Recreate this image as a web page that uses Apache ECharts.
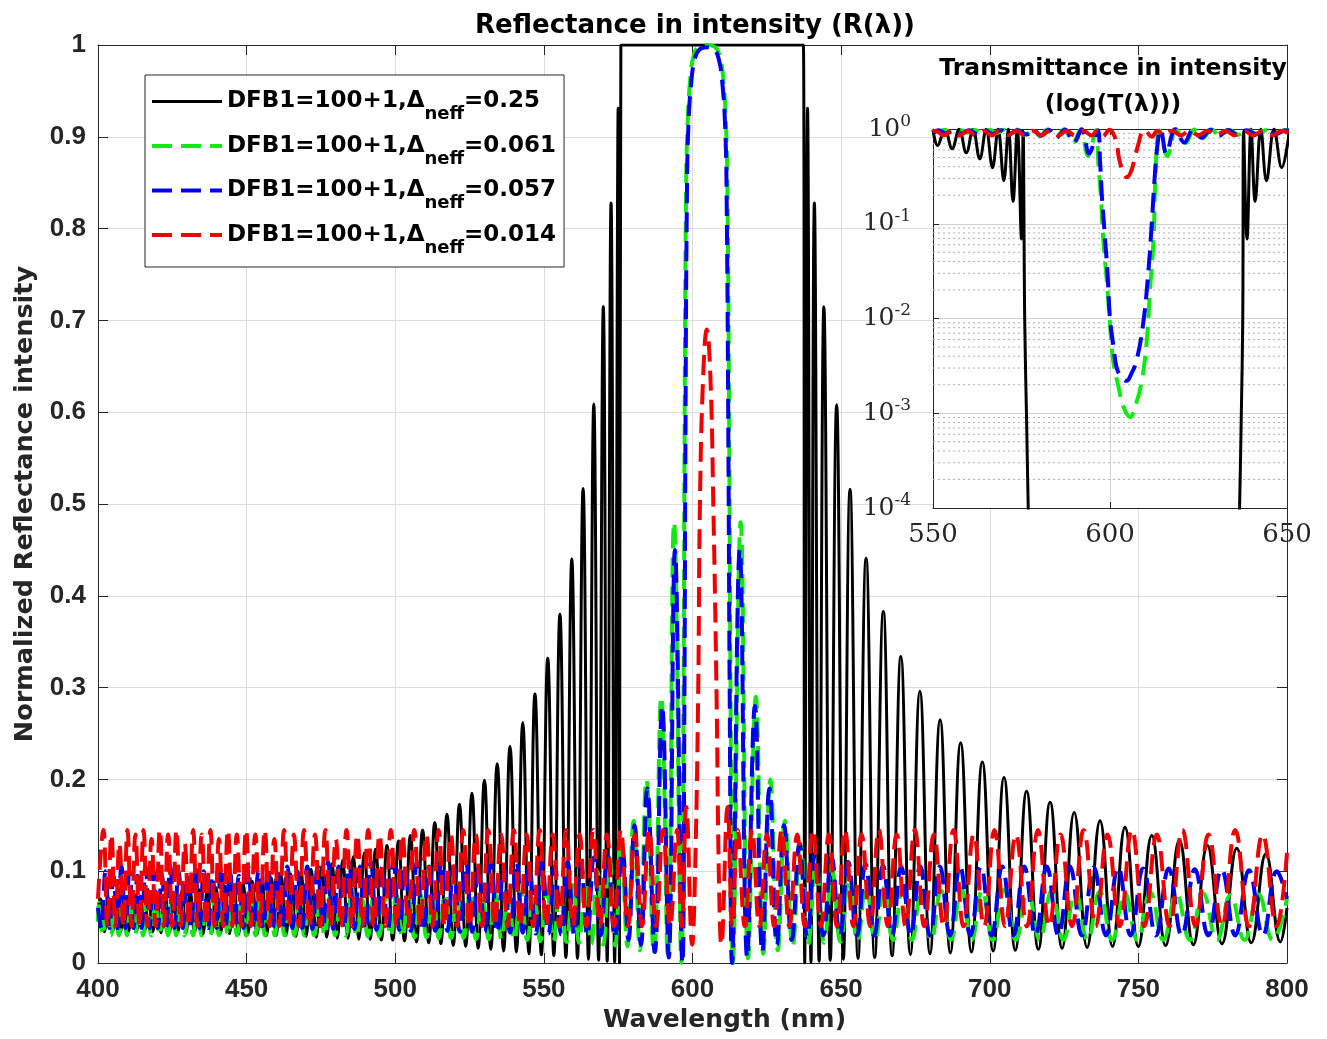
<!DOCTYPE html>
<html><head><meta charset="utf-8">
<script src="https://cdn.jsdelivr.net/npm/echarts/dist/echarts.min.js"></script>
<style>html,body{margin:0;padding:0;background:#fff}#c{width:1327px;height:1039px}</style>
</head><body><div id="c"></div>
<script>
// ---------------- DATA ----------------
const seriesNames = ['DFB1=100+1,Δneff=0.25','DFB1=100+1,Δneff=0.061','DFB1=100+1,Δneff=0.057','DFB1=100+1,Δneff=0.014'];
const xTicks = [400,450,500,550,600,650,700,750,800];
const insetXTicks = [550,600,650];

// Black (Δneff=0.25): [wavelength nm, reflectance] at extrema
const blackLeft = [[400.0,.060],[400.8,.070],[402.15,.034],[403.5,.071],[404.85,.034],[406.2,.071],[407.55,.034],[408.9,.072],[410.25,.034],[411.6,.073],[412.95,.034],[414.3,.073],[415.65,.034],[417.0,.074],[418.4,.034],[419.8,.075],[421.2,.033],[422.6,.076],[424.0,.033],[425.4,.077],[426.8,.033],[428.2,.078],[429.6,.033],[431.0,.079],[432.45,.033],[433.9,.080],[435.35,.032],[436.8,.081],[438.25,.032],[439.7,.082],[441.2,.032],[442.7,.084],[444.2,.032],[445.7,.085],[447.25,.031],[448.8,.087],[450.35,.031],[451.9,.089],[453.5,.031],[455.1,.091],[456.7,.030],[458.3,.093],[459.95,.030],[461.6,.095],[463.25,.030],[464.9,.097],[466.6,.029],[468.3,.099],[470.0,.029],[471.7,.102],[473.45,.028],[475.2,.105],[476.95,.028],[478.7,.108],[480.5,.027],[482.3,.112],[484.1,.027],[485.9,.116],[487.75,.026],[489.6,.120],[491.5,.026],[493.4,.124],[495.3,.025],[497.2,.128],[499.15,.025],[501.1,.133],[503.1,.024],[505.1,.139],[507.15,.023],[509.2,.145],[511.25,.022],[513.3,.153],[515.35,.021],[517.4,.162],[519.5,.019],[521.6,.173],[523.7,.018],[525.8,.185],[527.9,.016],[530.0,.199],[532.15,.015],[534.3,.217],[536.45,.013],[538.6,.236],[540.75,.012],[542.9,.262],[544.95,.010],[547.0,.293],[549.15,.009],[551.3,.332],[553.35,.008],[555.4,.380],[557.4,.006],[559.4,.440],[561.3,.005],[563.2,.517],[565.0,.004],[566.8,.609],[568.4,.003],[570.0,.715],[571.3,.002],[572.6,.828],[573.8,.001],[575.0,.931],[575.45,0]];
const blackBand = [[575.9,1],[576.5,1],[606,1],[636.7,1],[637.3,1]];
const blackRight = [[637.75,0],[638.7,.931],[639.85,.001],[641.0,.828],[642.6,.002],[644.2,.715],[646.35,.003],[648.5,.608],[650.75,.004],[653.0,.516],[655.7,.005],[658.4,.441],[661.3,.006],[664.2,.383],[667.15,.008],[670.1,.334],[673.3,.009],[676.5,.296],[679.9,.010],[683.3,.265],[686.75,.011],[690.2,.240],[693.85,.012],[697.5,.219],[701.15,.013],[704.8,.202],[708.6,.014],[712.4,.187],[716.35,.015],[720.3,.175],[724.35,.016],[728.4,.164],[732.75,.017],[737.1,.155],[741.3,.018],[745.5,.148],[750.0,.018],[754.5,.139],[759.15,.019],[763.8,.134],[768.5,.020],[773.2,.128],[778.15,.021],[783.1,.125],[788.0,.022],[792.9,.119],[797.8,.023],[800,.060]];

// Green (Δneff=0.061)
const greenLeft = [[400.0,.045],[400.3,.066],[401.65,.030],[403.0,.064],[404.35,.030],[405.7,.068],[407.05,.030],[408.4,.063],[409.75,.030],[411.1,.067],[412.45,.030],[413.8,.065],[415.15,.030],[416.5,.069],[417.9,.030],[419.3,.064],[420.7,.030],[422.1,.068],[423.5,.030],[424.9,.065],[426.3,.030],[427.7,.069],[429.1,.030],[430.5,.064],[431.95,.030],[433.4,.068],[434.85,.030],[436.3,.066],[437.75,.030],[439.2,.070],[440.7,.030],[442.2,.065],[443.7,.030],[445.2,.069],[446.75,.030],[448.3,.066],[449.85,.030],[451.4,.070],[453.0,.030],[454.6,.067],[456.2,.030],[457.8,.071],[459.45,.030],[461.1,.067],[462.75,.030],[464.4,.071],[466.1,.030],[467.8,.068],[469.4,.030],[471.0,.072],[472.75,.030],[474.5,.068],[476.25,.030],[478.0,.072],[479.8,.030],[481.6,.069],[483.4,.030],[485.2,.073],[487.05,.029],[488.9,.069],[490.8,.029],[492.7,.073],[494.6,.029],[496.5,.070],[498.45,.029],[500.4,.074],[502.4,.028],[504.4,.070],[506.45,.028],[508.5,.074],[510.55,.028],[512.6,.071],[514.65,.027],[516.7,.075],[518.8,.027],[520.9,.072],[523.0,.027],[525.1,.075],[527.2,.026],[529.3,.073],[531.45,.026],[533.6,.076],[535.75,.026],[537.9,.074],[540.05,.025],[542.2,.077],[544.4,.025],[546.6,.076],[548.8,.024],[551.0,.078],[553.2,.024],[555.4,.080],[557.6,.023],[559.8,.085],[561.85,.022],[563.9,.090],[565.95,.021],[568.0,.100],[570.0,.020],[572.0,.115],[574.0,.019],[576.0,.130],[578.1,.018],[580.2,.155],[582.3,.014],[584.5,.200],[587.0,.010],[589.5,.290],[591.7,.005],[593.8,.480],[596.3,0]];
const greenLobe = [[597.0,.30],[597.3,.55],[597.8,.83],[598.3,.91],[599.3,.965],[600.5,.99],[602.0,.998],[604.8,1],[607.5,.998],[609.0,.99],[610.3,.965],[611.3,.91],[611.8,.83],[612.4,.55],[612.8,.30],[613.6,0]];
const greenRight = [[616.2,.480],[618.7,.005],[621.3,.290],[623.8,.010],[626.2,.200],[628.7,.014],[631.1,.155],[633.7,.018],[636.3,.130],[638.9,.020],[641.6,.110],[644.3,.022],[647.0,.100],[649.8,.023],[652.6,.090],[655.5,.024],[658.4,.085],[661.4,.025],[664.4,.082],[667.5,.025],[670.6,.080],[673.8,.025],[677.0,.081],[680.3,.025],[683.6,.079],[687.0,.025],[690.4,.081],[693.9,.025],[697.4,.079],[701.0,.025],[704.8,.080],[708.8,.025],[712.8,.078],[716.8,.025],[720.8,.079],[724.8,.025],[728.8,.077],[732.9,.025],[737.0,.078],[741.2,.025],[745.4,.076],[749.7,.025],[754.0,.077],[758.4,.025],[762.8,.075],[767.3,.025],[771.8,.076],[776.4,.025],[781.0,.074],[785.7,.025],[790.4,.075],[795.2,.025],[800,.070]];

// Blue (Δneff=0.057)
const blueLeft = [[400.0,.060],[401.15,.038],[402.5,.100],[403.85,.038],[405.2,.095],[406.55,.038],[407.9,.105],[409.25,.038],[410.6,.100],[411.95,.038],[413.3,.095],[414.65,.038],[416.0,.105],[417.35,.038],[418.7,.100],[420.1,.038],[421.5,.095],[422.9,.038],[424.3,.105],[425.7,.038],[427.1,.100],[428.5,.038],[429.9,.095],[431.3,.038],[432.7,.105],[434.15,.038],[435.6,.100],[437.05,.038],[438.5,.095],[439.95,.038],[441.4,.105],[442.9,.038],[444.4,.100],[445.9,.038],[447.4,.095],[448.95,.038],[450.5,.105],[452.25,.038],[454.0,.100],[455.6,.038],[457.2,.105],[458.8,.038],[460.4,.100],[462.05,.038],[463.7,.105],[465.35,.038],[467.0,.100],[468.7,.038],[470.4,.105],[472.15,.037],[473.9,.105],[475.65,.037],[477.4,.110],[479.15,.037],[480.9,.105],[482.7,.037],[484.5,.110],[486.3,.037],[488.1,.105],[489.95,.036],[491.8,.110],[493.7,.036],[495.6,.105],[497.5,.036],[499.4,.110],[501.35,.036],[503.3,.105],[505.3,.035],[507.3,.110],[509.35,.035],[511.4,.105],[513.45,.035],[515.5,.110],[517.55,.035],[519.6,.105],[521.7,.034],[523.8,.110],[525.9,.034],[528.0,.105],[530.1,.034],[532.2,.110],[534.35,.033],[536.5,.105],[538.65,.033],[540.8,.110],[542.95,.033],[545.1,.105],[547.25,.032],[549.4,.110],[551.55,.032],[553.7,.105],[555.85,.031],[558.0,.110],[560.2,.031],[562.4,.110],[564.6,.030],[566.8,.115],[569.1,.030],[571.4,.118],[573.9,.028],[576.4,.125],[578.45,.025],[580.5,.150],[582.65,.020],[584.8,.190],[587.3,.012],[589.8,.280],[592.0,.006],[594.1,.450],[596.6,0]];
const blueLobe = [[597.3,.30],[597.6,.55],[598.1,.83],[598.6,.91],[599.6,.96],[600.8,.985],[602.3,.995],[604.8,.9975],[607.3,.995],[608.8,.985],[610.0,.96],[611.0,.91],[611.5,.83],[612.1,.55],[612.5,.30],[613.3,0]];
const blueRight = [[615.9,.450],[618.4,.006],[621.0,.280],[623.5,.012],[625.9,.190],[628.4,.020],[630.8,.150],[633.4,.025],[636.0,.130],[638.6,.028],[641.3,.120],[644.0,.030],[646.8,.115],[649.6,.030],[652.4,.110],[655.3,.030],[658.2,.108],[661.1,.030],[664.1,.106],[667.1,.030],[670.2,.105],[673.4,.030],[676.6,.105],[679.9,.030],[683.2,.105],[686.6,.030],[690.0,.105],[693.5,.030],[697.0,.105],[700.6,.030],[704.2,.105],[707.9,.030],[711.6,.105],[715.4,.030],[719.2,.105],[723.1,.030],[727.0,.105],[731.0,.030],[735.0,.104],[739.1,.030],[743.2,.104],[747.4,.030],[751.6,.103],[755.9,.030],[760.2,.103],[764.6,.030],[769.0,.102],[773.5,.030],[778.0,.102],[782.6,.030],[787.2,.101],[791.9,.030],[796.6,.100],[800,.070]];

// Red (Δneff=0.014)
const redLeft = [[400.0,.070],[401.8,.145],[403.15,.04],[404.5,.14],[405.85,.04],[407.2,.13],[408.55,.04],[409.9,.145],[411.25,.04],[412.6,.14],[413.95,.04],[415.3,.145],[416.65,.04],[418.0,.135],[419.4,.04],[420.8,.145],[422.2,.04],[423.6,.14],[425.0,.04],[426.4,.145],[427.8,.04],[429.2,.13],[430.6,.04],[432.0,.145],[433.45,.04],[434.9,.14],[436.35,.04],[437.8,.145],[439.25,.04],[440.7,.135],[442.2,.04],[443.7,.145],[445.2,.04],[446.7,.14],[448.25,.04],[449.8,.145],[451.35,.04],[452.9,.14],[454.5,.04],[456.1,.145],[457.7,.04],[459.3,.135],[460.95,.04],[462.6,.145],[464.25,.04],[465.9,.14],[467.6,.04],[469.3,.145],[471.15,.04],[473.0,.14],[474.75,.04],[476.5,.145],[478.25,.04],[480.0,.135],[481.8,.04],[483.6,.145],[485.4,.04],[487.2,.14],[489.05,.04],[490.9,.145],[492.8,.04],[494.7,.14],[496.6,.04],[498.5,.145],[500.45,.04],[502.4,.14],[504.4,.04],[506.4,.145],[508.45,.04],[510.5,.14],[512.55,.04],[514.6,.145],[516.65,.04],[518.7,.14],[520.8,.04],[522.9,.145],[525.0,.04],[527.1,.14],[529.2,.04],[531.3,.145],[533.45,.04],[535.6,.14],[537.75,.04],[539.9,.145],[542.05,.04],[544.2,.14],[546.4,.04],[548.6,.145],[550.8,.04],[553.0,.14],[555.25,.04],[557.5,.145],[559.75,.04],[562.0,.14],[564.3,.04],[566.6,.145],[568.9,.04],[571.2,.14],[573.55,.04],[575.9,.145],[578.25,.04],[580.6,.14],[583.0,.04],[585.4,.145],[587.75,.04],[590.1,.145],[592.45,.04],[594.8,.145],[596.4,.04],[597.9,.17],[599.9,.02]];
const redLobe = [[600.8,.09],[601.9,.29],[602.5,.50],[603.6,.64],[604.8,.69],[606.0,.64],[607.0,.50],[608.1,.29],[608.9,.09]];
const redRight = [[609.7,.02],[611.8,.17],[613.4,.04],[615.2,.145],[617.6,.04],[620.0,.145],[622.5,.04],[625.0,.14],[627.5,.04],[630.0,.145],[632.6,.04],[635.2,.14],[637.8,.04],[640.5,.145],[643.2,.04],[645.9,.14],[648.6,.04],[651.3,.145],[654.1,.04],[656.9,.14],[659.8,.04],[662.7,.145],[665.7,.04],[668.7,.14],[671.7,.04],[674.8,.145],[678.0,.04],[681.2,.14],[684.5,.04],[687.8,.145],[691.2,.04],[694.6,.14],[698.1,.04],[701.6,.145],[705.2,.04],[708.8,.14],[712.5,.04],[716.2,.145],[720.0,.04],[723.8,.14],[727.7,.04],[731.6,.145],[735.6,.04],[739.6,.14],[743.7,.04],[747.8,.145],[752.0,.04],[756.2,.14],[760.5,.04],[764.8,.145],[769.2,.04],[773.6,.14],[778.1,.04],[782.6,.145],[787.2,.04],[791.8,.14],[796.5,.04],[800,.12]];

// Inset: transmittance T (log scale), 550-650 nm
const insetBlack = [[550,.98],[551.3,.668],[553.35,.99],[555.4,.62],[557.4,.994],[559.4,.56],[561.3,.995],[563.2,.483],[565.0,.996],[566.8,.391],[568.4,.997],[570.0,.285],[571.3,.998],[572.6,.172],[573.8,.999],[575.0,.069],[575.45,.95],[575.9,.01],[576.4,.001],[576.9,.0001],[577.5,.00001],[606,1e-8],[636.0,.00001],[636.6,.0001],[637.1,.001],[637.5,.01],[637.75,.95],[638.7,.069],[639.85,.999],[641.0,.172],[642.6,.998],[644.2,.285],[646.35,.997],[648.5,.392],[650.75,.996]];
const insetGreen = [[550,.975],[551.0,.922],[553.2,.976],[555.4,.92],[557.6,.977],[559.8,.915],[561.85,.978],[563.9,.91],[565.95,.979],[568.0,.90],[570.0,.98],[572.0,.885],[574.0,.981],[576.0,.87],[578.1,.982],[580.2,.845],[582.3,.986],[584.5,.80],[587.0,.99],[589.5,.71],[591.7,.995],[593.8,.52],[596.0,.97],[596.7,.44],[597.4,.2],[598.1,.068],[599.1,.025],[599.8,.011],[600.9,.0036],[602.4,.0019],[603.8,.00117],[605.7,.00091],[607.1,.00117],[609.0,.0022],[610.4,.0059],[611.3,.02],[612.3,.068],[612.7,.23],[613.2,.6],[614.0,.97],[616.2,.52],[618.7,.995],[621.3,.71],[623.8,.99],[626.2,.80],[628.7,.986],[631.1,.845],[633.7,.982],[636.3,.87],[638.9,.98],[641.6,.89],[644.3,.978],[647.0,.90],[649.8,.977],[652.6,.91]];
const insetBlue = [[550,.90],[551.55,.968],[553.7,.895],[555.85,.969],[558.0,.89],[560.2,.969],[562.4,.89],[564.6,.97],[566.8,.885],[569.1,.97],[571.4,.882],[573.9,.972],[576.4,.875],[578.45,.975],[580.5,.85],[582.65,.98],[584.8,.81],[587.3,.988],[589.8,.72],[592.0,.994],[594.1,.55],[596.5,.97],[597.2,.45],[597.7,.2],[598.6,.07],[599.3,.03],[600.0,.01],[601.0,.005],[601.9,.003],[603.3,.0024],[604.7,.0022],[606.0,.0026],[607.5,.0036],[609.4,.009],[610.8,.03],[611.8,.1],[612.7,.34],[613.7,.84],[614.3,.98],[615.9,.55],[618.4,.994],[621.0,.72],[623.5,.988],[625.9,.81],[628.4,.98],[630.8,.85],[633.4,.975],[636.0,.87],[638.6,.972],[641.3,.88],[644.0,.97],[646.8,.885],[649.6,.97],[652.4,.89]];
const insetRed = [[550,.93],[550.8,.96],[553.0,.86],[555.25,.96],[557.5,.855],[559.75,.96],[562.0,.86],[564.3,.96],[566.6,.855],[568.9,.96],[571.2,.86],[573.55,.96],[575.9,.855],[578.25,.96],[580.6,.86],[583.0,.96],[585.4,.855],[587.75,.96],[590.1,.855],[592.45,.96],[594.8,.855],[596.4,.96],[597.9,.83],[599.9,.98],[600.8,.91],[601.9,.71],[602.5,.5],[603.6,.36],[604.8,.31],[606.0,.36],[607.0,.5],[608.1,.71],[608.9,.91],[609.7,.98],[611.8,.83],[613.4,.96],[615.2,.855],[617.6,.96],[620.0,.855],[622.5,.96],[625.0,.86],[627.5,.96],[630.0,.855],[632.6,.96],[635.2,.86],[637.8,.96],[640.5,.855],[643.2,.96],[645.9,.86],[648.6,.96],[651.3,.855]];

// ---------------- CHART ----------------
const SANS = 'DejaVu Sans', TICKF = 'Liberation Sans', SERIF = 'DejaVu Serif';
const AX = '#262626', GRIDC = '#dcdcdc';
const COLORS = ['#000000', '#12e812', '#0000ee', '#f00000'];
const DASH = [20, 9];
// minor log grid levels (2..9 x each decade) -- axis decoration, not data
const minorLog = [];
[0.0001, 0.001, 0.01, 0.1].forEach(d => { for (let k = 2; k <= 9; k++) minorLog.push(+(d * k).toPrecision(3)); });
const minorGridData = [];
minorLog.forEach(v => { minorGridData.push([550, v], [650, v], [650, null]); });

const chart = echarts.init(document.getElementById('c'), null, { renderer: 'canvas' });

function mainLine(i, data) {
  return {
    type: 'line', name: seriesNames[i], xAxisIndex: 0, yAxisIndex: 0, data: data,
    symbol: 'none', showSymbol: false, smooth: 0.45, clip: true, z: 2 + i * 0.1,
    lineStyle: { color: COLORS[i], width: i === 0 ? 3 : 4, type: i === 0 ? 'solid' : DASH, cap: 'butt' },
    itemStyle: { color: COLORS[i] }
  };
}
function insetLine(i, data) {
  return {
    type: 'line', name: 'inset' + i, xAxisIndex: 2, yAxisIndex: 2, data: data,
    symbol: 'none', showSymbol: false, smooth: 0.4, clip: true, z: 12 + i * 0.1,
    lineStyle: { color: COLORS[i], width: i === 0 ? 3 : 4, type: i === 0 ? 'solid' : DASH, cap: 'butt' },
    itemStyle: { color: COLORS[i] }
  };
}

const option = {
  animation: false,
  backgroundColor: '#fff',
  title: [
    { text: 'Reflectance in intensity (R(λ))', left: 690, top: 8, textAlign: 'center',
      textStyle: { fontFamily: SANS, fontWeight: 'bold', fontSize: 26, color: '#000' } },
    { text: 'Transmittance in intensity\n(log(T(λ)))', left: 1108, top: 46, textAlign: 'center', z: 13,
      textStyle: { fontFamily: SANS, fontWeight: 'bold', fontSize: 23.5, lineHeight: 36, color: '#000' } }
  ],
  legend: {
    left: 145, top: 75, orient: 'vertical', selectedMode: false,
    itemWidth: 70, itemHeight: 20, itemGap: 11, padding: [15, 8, 10, 5],
    backgroundColor: '#fff', borderColor: AX, borderWidth: 1, borderRadius: 0,
    itemStyle: { opacity: 0, borderWidth: 0 },
    data: seriesNames.map((n, i) => ({ name: n, itemStyle: { opacity: 0, borderWidth: 0 }, lineStyle: { width: i === 0 ? 3 : 4 } })),
    formatter: function (name) { return '{a|DFB1=100+1,Δ}{b|neff}{a|=' + name.split('=').pop() + '}'; },
    textStyle: {
      rich: {
        a: { fontFamily: SANS, fontWeight: 'bold', fontSize: 23, lineHeight: 44, color: '#000' },
        b: { fontFamily: SANS, fontWeight: 'bold', fontSize: 18, lineHeight: 18, verticalAlign: 'bottom', color: '#000' }
      }
    }
  },
  grid: [
    { left: 98, top: 45, width: 1189, height: 918, show: false },
    { left: 933, top: 129, width: 354, height: 379, show: true, backgroundColor: '#fff', borderWidth: 0, z: 10 }
  ],
  xAxis: [
    { gridIndex: 0, type: 'value', min: 400, max: 800, interval: 50, position: 'bottom',
      axisLine: { show: true, onZero: false, lineStyle: { color: AX, width: 1 } },
      axisTick: { show: true, inside: true, length: 10, lineStyle: { color: AX } },
      axisLabel: { show: true, margin: 14, fontFamily: TICKF, fontWeight: 'bold', fontSize: 26, color: AX,
        formatter: v => (xTicks.indexOf(v) >= 0 ? String(v) : '') },
      splitLine: { show: true, lineStyle: { color: GRIDC, width: 1 } },
      name: 'Wavelength (nm)', nameLocation: 'middle', nameGap: 42,
      nameTextStyle: { fontFamily: SANS, fontWeight: 'bold', fontSize: 25, color: AX, padding: [0, 0, 0, 64] } },
    { gridIndex: 0, type: 'value', min: 400, max: 800, interval: 50, position: 'top',
      axisLine: { show: true, onZero: false, lineStyle: { color: AX, width: 1 } },
      axisTick: { show: true, inside: true, length: 10, lineStyle: { color: AX } },
      axisLabel: { show: false }, splitLine: { show: false } },
    { gridIndex: 1, type: 'value', min: 550, max: 650, interval: 50, position: 'bottom', z: 11,
      axisLine: { show: true, onZero: false, lineStyle: { color: AX, width: 1 } },
      axisTick: { show: true, inside: true, length: 6, lineStyle: { color: AX } },
      axisLabel: { show: true, margin: 14, fontFamily: SERIF, fontSize: 26, color: AX,
        formatter: v => (insetXTicks.indexOf(v) >= 0 ? String(v) : '') },
      splitLine: { show: true, lineStyle: { color: '#d4d4d4', width: 1 } } },
    { gridIndex: 1, type: 'value', min: 550, max: 650, interval: 50, position: 'top', z: 11,
      axisLine: { show: true, onZero: false, lineStyle: { color: AX, width: 1 } },
      axisTick: { show: true, inside: true, length: 6, lineStyle: { color: AX } },
      axisLabel: { show: false }, splitLine: { show: false } }
  ],
  yAxis: [
    { gridIndex: 0, type: 'value', min: 0, max: 1, interval: 0.1, position: 'left',
      axisLine: { show: true, onZero: false, lineStyle: { color: AX, width: 1 } },
      axisTick: { show: true, inside: true, length: 10, lineStyle: { color: AX } },
      axisLabel: { show: true, margin: 12, fontFamily: TICKF, fontWeight: 'bold', fontSize: 26, color: AX,
        formatter: v => (v === 0 ? '0' : v >= 0.999 ? '1' : v.toFixed(1)) },
      splitLine: { show: true, lineStyle: { color: GRIDC, width: 1 } },
      name: 'Normalized Reflectance intensity', nameLocation: 'middle', nameGap: 60,
      nameTextStyle: { fontFamily: SANS, fontWeight: 'bold', fontSize: 25.5, color: AX } },
    { gridIndex: 0, type: 'value', min: 0, max: 1, interval: 0.1, position: 'right',
      axisLine: { show: true, onZero: false, lineStyle: { color: AX, width: 1 } },
      axisTick: { show: true, inside: true, length: 10, lineStyle: { color: AX } },
      axisLabel: { show: false }, splitLine: { show: false } },
    { gridIndex: 1, type: 'log', logBase: 10, min: 0.0001, max: 1, position: 'left', z: 11,
      axisLine: { show: true, onZero: false, lineStyle: { color: AX, width: 1 } },
      axisTick: { show: true, inside: true, length: 6, lineStyle: { color: AX } },
      axisLabel: { show: true, margin: 22,
        formatter: v => '{m|10}{s|' + Math.round(Math.log10(v)) + '}',
        rich: {
          m: { fontFamily: SERIF, fontSize: 25, lineHeight: 32, color: AX },
          s: { fontFamily: SERIF, fontSize: 17, lineHeight: 17, verticalAlign: 'top', color: AX }
        } },
      splitLine: { show: true, lineStyle: { color: '#d0d0d0', width: 1 } } },
    { gridIndex: 1, type: 'log', logBase: 10, min: 0.0001, max: 1, position: 'right', z: 11,
      axisLine: { show: true, onZero: false, lineStyle: { color: AX, width: 1 } },
      axisTick: { show: false }, axisLabel: { show: false }, splitLine: { show: false } }
  ],
  series: [
    mainLine(0, blackLeft.concat(blackBand, blackRight)),
    mainLine(1, greenLeft.concat(greenLobe, greenRight)),
    mainLine(2, blueLeft.concat(blueLobe, blueRight)),
    mainLine(3, redLeft.concat(redLobe, redRight)),
    { type: 'line', name: 'minorgrid', xAxisIndex: 2, yAxisIndex: 2, data: minorGridData, z: 11, silent: true,
      symbol: 'none', showSymbol: false, connectNulls: false, clip: true,
      lineStyle: { type: [2, 3], color: '#b0b0b0', width: 1 } },
    insetLine(0, insetBlack),
    insetLine(1, insetGreen),
    insetLine(2, insetBlue),
    insetLine(3, insetRed)
  ]
};
chart.setOption(option);
</script></body></html>
